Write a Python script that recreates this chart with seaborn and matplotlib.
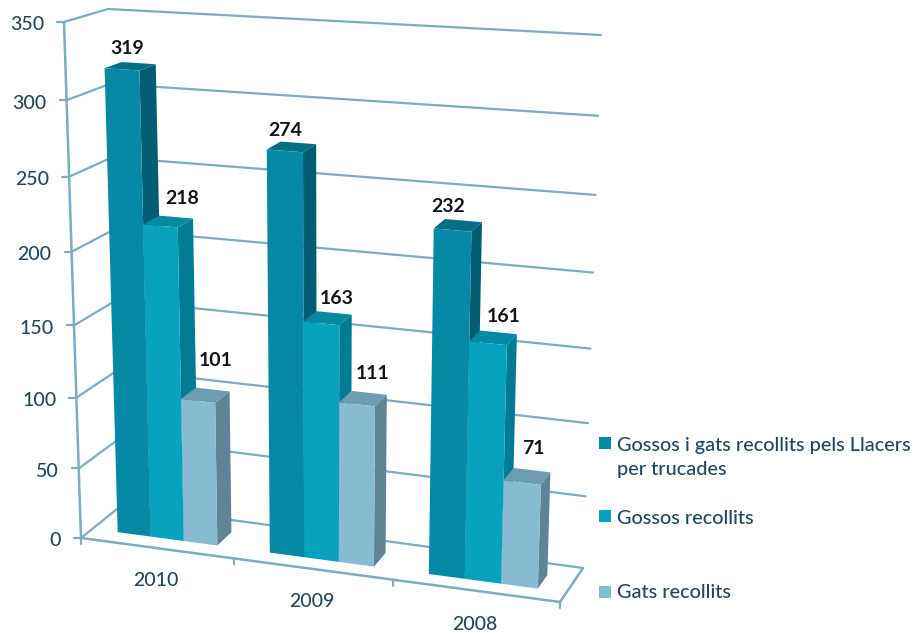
import matplotlib
matplotlib.use("Agg")
import matplotlib.pyplot as plt
import matplotlib.transforms as mtrans
from matplotlib.patches import Polygon, Rectangle
import numpy as np
import pandas as pd
import seaborn as sns

years = ["2010", "2009", "2008"]
series = [
    "Gossos i gats recollits pels Llacers\nper trucades",
    "Gossos recollits",
    "Gats recollits",
]
trucades = [319, 274, 232]
gossos = [218, 163, 161]
gats = [101, 111, 71]
y_ticks = [0, 50, 100, 150, 200, 250, 300, 350]

front_colors = ["#0589A4", "#08A2BF", "#86BBD2"]
side_colors = ["#005D72", "#007C93", "#5F8397"]
top_colors = ["#026F85", "#048AA3", "#6C9DB3"]
grid_color = "#7DABC0"
text_color = "#24485A"

W, H = 920, 635

# corners of the chart box in pixels: left-bottom, right-bottom, left-top, right-top
front_box = [(81, 538), (560, 602), (64, 22), (578, 54)]
back_box = [(122, 505), (583, 568), (108, 9), (601, 35)]
U0, U1 = -0.5, 2.5
V0, V1 = 0, 350
bar_d0, bar_d1 = 0.28, 0.68


def homography(pts):
    src = [(U0, V0), (U1, V0), (U0, V1), (U1, V1)]
    A, b = [], []
    for (u, v), (x, y) in zip(src, pts):
        A.append([u, v, 1, 0, 0, 0, -u * x, -v * x])
        A.append([0, 0, 0, u, v, 1, -u * y, -v * y])
        b += [x, y]
    return np.append(np.linalg.solve(np.array(A, float), np.array(b, float)), 1).reshape(3, 3)


H_front = homography(front_box)
H_back = homography(back_box)


def project(u, v, d):
    u, v = np.asarray(u, float), np.asarray(v, float)
    p = np.stack([u, v, np.ones_like(u)], axis=-1)
    a = p @ H_front.T
    b = p @ H_back.T
    a = a[..., :2] / a[..., 2:]
    b = b[..., :2] / b[..., 2:]
    xy = (1 - d) * a + d * b
    xy[..., 1] = H - xy[..., 1]
    return xy


class Box3D(mtrans.Transform):
    # data (category, value) at a given depth -> display pixels
    input_dims = 2
    output_dims = 2
    is_separable = False
    has_inverted = False

    def __init__(self, d):
        super().__init__()
        self.d = d

    def transform_non_affine(self, values):
        values = np.asarray(values, float)
        return project(values[:, 0], values[:, 1], self.d)


sns.set_theme(style="white")
plt.rcParams["font.family"] = ["Lato", "DejaVu Sans"]

df = pd.DataFrame({
    "any": years * 3,
    "serie": [s for s in series for _ in years],
    "valor": trucades + gossos + gats,
})

fig = plt.figure(figsize=(W / 100, H / 100), dpi=100)
ax = fig.add_axes([0, 0, 1, 1])

sns.barplot(data=df, x="any", y="valor", hue="serie", hue_order=series, order=years,
            palette=front_colors, saturation=1, width=0.66, legend=False, ax=ax)
ax.set_xlim(-0.5, 2.5)
ax.set_ylim(0, 350)
ax.axis("off")

pix = mtrans.IdentityTransform()

# gridlines: side wall + back wall
front_t = Box3D(0)
for t in y_ticks:
    pts = np.vstack([project(U0, t, 0), project(U0, t, 1), project(U1, t, 1)])
    ax.plot(pts[:, 0], pts[:, 1], color=grid_color, lw=1.6, transform=pix, clip_on=False, zorder=1)
    tick = np.vstack([project(U0, t, 0), project(U0, t, 0) + [-7, 0]])
    ax.plot(tick[:, 0], tick[:, 1], color=grid_color, lw=1.6, transform=pix, zorder=1)
    ax.annotate(str(t), (U0, t), xycoords=front_t, xytext=(-20, -3), textcoords="offset pixels",
                ha="right", va="center", fontsize=14, fontweight="medium", color=text_color)

# walls and floor outline
outline = np.array([project(U0, V1, 0), project(U0, V0, 0), project(U1, V0, 0), project(U1, V0, 1)])
ax.plot(outline[:, 0], outline[:, 1], color=grid_color, lw=1.8, transform=pix, zorder=1)

for i in range(4):
    p = project(U0 + i, 0, 0)
    ax.plot([p[0], p[0]], [p[1], p[1] - 6], color=grid_color, lw=1.6, transform=pix, zorder=1)

year_offsets = [-32, -33, -34]
for i, year in enumerate(years):
    ax.annotate(year, (i, 0), xycoords=front_t, xytext=(-1, year_offsets[i]), textcoords="offset pixels",
                ha="center", va="center", fontsize=14, fontweight="medium", color=text_color)

# 3D faces built from the bars seaborn drew
label_offsets = [
    [(-11, 15), (-13, 12), (-15, 14)],
    [(6, 19), (3, 14), (5, 16)],
    [(3, 29), (4, 19), (1, 22)],
]
for s, cont in enumerate(ax.containers):
    for i, bar in enumerate(cont):
        x0, x1, v = bar.get_x(), bar.get_x() + bar.get_width(), bar.get_height()
        z = 3 + i + s * 0.1
        side = [project(x1, 0, bar_d0), project(x1, v, bar_d0), project(x1, v, bar_d1), project(x1, 0, bar_d1)]
        top = [project(x0, v, bar_d0), project(x1, v, bar_d0), project(x1, v, bar_d1), project(x0, v, bar_d1)]
        ax.add_patch(Polygon(side, closed=True, fc=side_colors[s], ec="none", transform=pix, zorder=z))
        ax.add_patch(Polygon(top, closed=True, fc=top_colors[s], ec="none", transform=pix, zorder=z + 0.01))
        bar.set_transform(Box3D(bar_d0))
        bar.set_zorder(z + 0.02)
        bar.set_linewidth(0)
        dx, dy = label_offsets[s][i]
        ax.annotate(str(int(v)), ((x0 + x1) / 2, v), xycoords=Box3D(bar_d1), xytext=(dx, dy),
                    textcoords="offset pixels", ha="center", va="center", fontsize=14,
                    fontweight="bold", color="#101418", zorder=20)

# legend
legend_box_y = [443, 516, 592]
legend_text_y = [458, 519, 593]
for s, name in enumerate(series):
    fig.add_artist(Rectangle((599, H - legend_box_y[s] - 6), 12, 12, fc=front_colors[s], ec="none",
                             transform=pix))
    fig.text(617 / W, 1 - legend_text_y[s] / H, name, ha="left", va="center", fontsize=14.3,
             fontweight="medium", color=text_color, linespacing=1.5)

fig.savefig("out.png", dpi=100, facecolor="white")
